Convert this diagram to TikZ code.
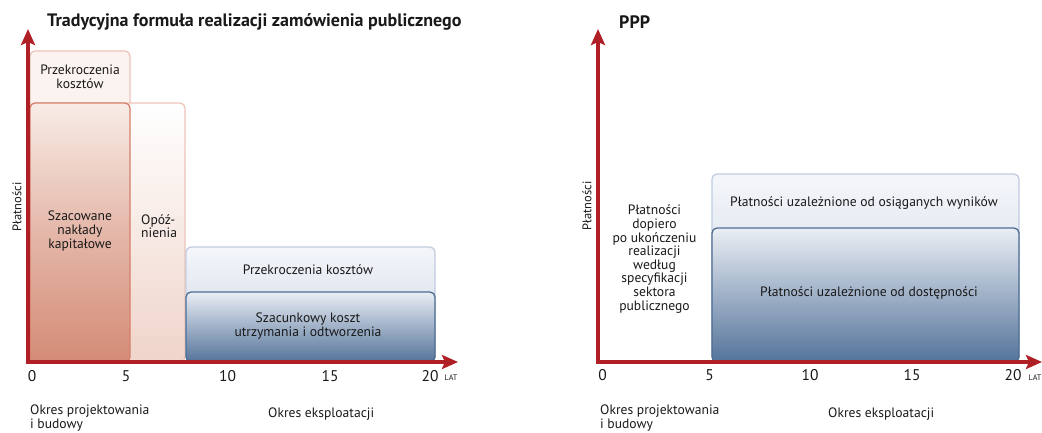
\documentclass[tikz,border=0pt]{standalone}
\usepackage{fontspec}
\setmainfont{PT Sans}
\usetikzlibrary{arrows.meta}
\definecolor{axred}{RGB}{176,30,38}
\definecolor{salmon}{RGB}{212,140,118}
\definecolor{salmontop}{RGB}{248,236,231}
\definecolor{pinkline}{RGB}{236,196,184}
\definecolor{salmonline}{RGB}{214,128,106}
\definecolor{palepink}{RGB}{251,243,240}
\definecolor{opobot}{RGB}{239,212,202}
\definecolor{bluelt}{RGB}{244,246,250}
\definecolor{bluemid}{RGB}{200,211,226}
\definecolor{bluelightline}{RGB}{192,204,222}
\definecolor{bluedark}{RGB}{84,115,154}
\definecolor{bluedarkline}{RGB}{76,108,146}
\definecolor{bluetop2}{RGB}{234,238,244}
\definecolor{txt}{RGB}{25,25,25}
\tikzset{
  axis/.style={line width=4pt, draw=axred, -{Stealth[length=16pt,width=14pt,inset=3pt]}},
  lbl/.style={inner sep=0pt, align=center, text=txt, font=\fontsize{13.6}{13.6}\selectfont},
  tick/.style={inner sep=0pt, text=txt, font=\fontsize{15.5}{15.5}\selectfont},
  latlbl/.style={inner sep=0pt, text=txt, font=\fontsize{8}{8}\selectfont},
  per/.style={inner sep=0pt, align=left, text=txt, font=\fontsize{13.6}{14}\selectfont},
  ttl/.style={inner sep=0pt, anchor=west, text=txt, font=\fontsize{18}{18}\selectfont\bfseries},
  ylab/.style={inner sep=0pt, rotate=90, text=txt, font=\fontsize{12.5}{12.5}\selectfont},
  box/.style={rounded corners=5pt, line width=1.3pt}
}
\begin{document}
\begin{tikzpicture}[x=1pt,y=-1pt]
\useasboundingbox (0,0) rectangle (1042,432);
% ---------------- left chart ----------------
\path[box, draw=pinkline, fill=palepink] (30,51) rectangle (130,362);
\path[box, draw=pinkline, top color=white, bottom color=opobot] (30,103) rectangle (185,362);
\path[box, draw=salmonline, top color=salmontop, bottom color=salmon, middle color=salmon!55!salmontop] (30,103) rectangle (130,362);
\path[box, draw=bluelightline, top color=bluelt, bottom color=bluemid] (186,247) rectangle (435,362);
\path[box, draw=bluedarkline, top color=bluetop2, bottom color=bluedark] (186,292) rectangle (435,362);

\coordinate (lo) at (28,362);
\coordinate (ly) at (28,29);
\coordinate (lx) at (458,362);
\draw[axis] ([yshift=2pt]lo) -- (ly);
\draw[axis] ([xshift=-2pt]lo) -- (lx);

\node[ttl] (t1) at (47,22) {Tradycyjna formuła realizacji zamówienia publicznego};
\node[ylab] (y1) at (17,207) {Płatności};
\node[lbl] (a1) at (80,77) {Przekroczenia\\kosztów};
\node[lbl] (a2) at (80,231) {Szacowane\\nakłady\\kapitałowe};
\node[lbl, align=left, anchor=west] (a3) at (141,226) {Opóź-\\nienia};
\node[lbl] (a4) at (308,270) {Przekroczenia kosztów};
\node[lbl] (a5) at (308,326) {Szacunkowy koszt\\utrzymania i odtworzenia};

\node[tick] (l0) at (32,376) {0};
\node[tick] (l5) at (126,376) {5};
\node[tick] (l10) at (227.5,376) {10};
\node[tick] (l15) at (330,376) {15};
\node[tick] (l20) at (430,376) {20};
\node[latlbl] (llat) at (451,378) {LAT};
\node[per, anchor=north west] (lp) at (30,405) {Okres projektowania\\i budowy};
\node[per, anchor=west] (le) at (268,414) {Okres eksploatacji};

% ---------------- right chart ----------------
\path[box, draw=bluelightline, top color=bluelt, bottom color=bluemid] (712,174) rectangle (1019,362);
\path[box, draw=bluedarkline, top color=bluetop2, bottom color=bluedark] (712,228) rectangle (1019,362);

\coordinate (ro) at (598,362);
\coordinate (ry) at (598,29);
\coordinate (rx) at (1042,362);
\draw[axis] ([yshift=2pt]ro) -- (ry);
\draw[axis] ([xshift=-2pt]ro) -- (rx);

\node[ttl] (t2) at (619,22) {PPP};
\node[ylab] (y2) at (587,206) {Płatności};
\node[lbl] (b1) at (654.5,259) {Płatności\\dopiero\\po ukończeniu\\realizacji\\według\\specyfikacji\\sektora\\publicznego};
\node[lbl] (b2) at (864,203) {Płatności uzależnione od osiąganych wyników};
\node[lbl] (b3) at (869,293) {Płatności uzależnione od dostępności};

\node[tick] (r0) at (602.5,375) {0};
\node[tick] (r5) at (709.5,375) {5};
\node[tick] (r10) at (810,375) {10};
\node[tick] (r15) at (912,375) {15};
\node[tick] (r20) at (1013,375) {20};
\node[latlbl] (rlat) at (1035,378) {LAT};
\node[per, anchor=north west] (rp) at (600,405) {Okres projektowania\\i budowy};
\node[per, anchor=west] (re) at (828,414) {Okres eksploatacji};
\end{tikzpicture}
\end{document}
